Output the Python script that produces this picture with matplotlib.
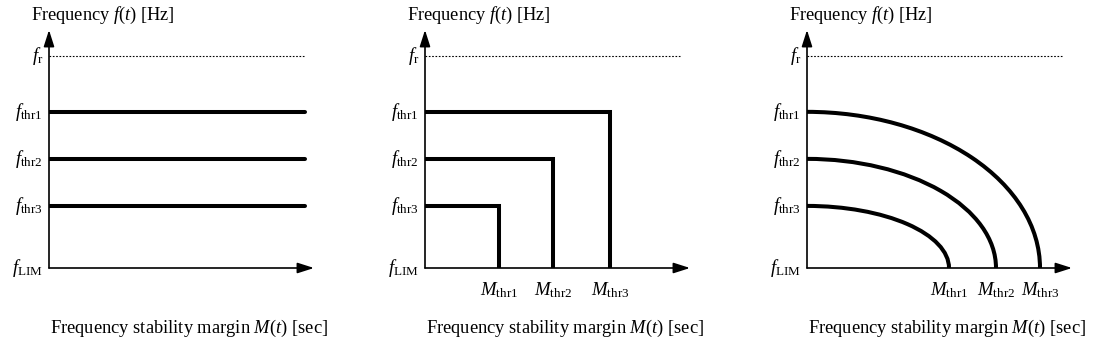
import matplotlib
matplotlib.use('Agg')
import matplotlib.pyplot as plt
from matplotlib.patches import Arc

plt.rcParams['font.family'] = 'Liberation Serif'
plt.rcParams['mathtext.fontset'] = 'custom'
plt.rcParams['mathtext.rm'] = 'Liberation Serif'
plt.rcParams['mathtext.it'] = 'Liberation Serif:italic'

# niveles de frecuencia (unidades arbitrarias, f_LIM = 0)
f_lim = 0.0
f_r = 4.51
f_thr = [3.32, 2.32, 1.32]          # thr1, thr2, thr3
f_names = ['thr1', 'thr2', 'thr3']

# margenes M donde cada nivel cae a f_LIM
m_const = 2.56                      # panel 1: lineas horizontales
m_step = [1.85, 1.28, 0.74]         # panel 2: escalones (thr1, thr2, thr3)
m_curve = [2.33, 1.89, 1.42]        # panel 3: curvas (thr1, thr2, thr3)
m_names = ['thr1', 'thr2', 'thr3']
m_dotted = 2.55

X_MAX = 2.65
Y_MAX = 5.06
W, H = 1098, 352
LW_THICK = 2.9
LW_AXIS = 1.2

panel_left_px = [49, 425, 807]

fig = plt.figure(figsize=(W / 100, H / 100), dpi=100)


def setup_panel(left_px):
    ax = fig.add_axes([left_px / W, (H - 268) / H, X_MAX * 100 / W, 238 / H])
    ax.set_xlim(0, X_MAX)
    ax.set_ylim(0, Y_MAX)
    ax.set_axis_off()

    arrow = dict(arrowstyle='-|>,head_length=1.0,head_width=0.32', lw=LW_AXIS,
                 color='black', shrinkA=0, shrinkB=0, mutation_scale=10)
    ax.annotate('', xy=(0, Y_MAX), xytext=(0, 0), arrowprops=arrow, annotation_clip=False)
    ax.annotate('', xy=(X_MAX, 0), xytext=(0, 0), arrowprops=arrow, annotation_clip=False)

    # linea de referencia f_r
    ax.plot([0, m_dotted], [f_r, f_r], color='black', lw=0.8, ls=(0, (1.5, 1.5)))

    # etiquetas del eje y
    labels = [(f_r, r'$f_{\mathrm{r}}$'), (f_lim, r'$f_{\mathrm{LIM}}$')]
    labels += [(f, r'$f_{\mathrm{%s}}$' % n) for f, n in zip(f_thr, f_names)]
    for y, txt in labels:
        ax.annotate(txt, xy=(0, y), xytext=(-6, 0), textcoords='offset pixels',
                    ha='right', va='center', fontsize=13.5, annotation_clip=False)

    ax.annotate(r'Frequency $f$($t$) [Hz]', xy=(0, Y_MAX), xytext=(-18, 10),
                textcoords='offset pixels', ha='left', va='baseline', fontsize=13.2,
                annotation_clip=False)
    ax.annotate(r'Frequency stability margin $M$($t$) [sec]', xy=(0, 0), xytext=(1, -60),
                textcoords='offset pixels', ha='left', va='center', fontsize=13.3,
                annotation_clip=False)
    return ax


def m_ticks(ax, values):
    for m, n in zip(values, m_names):
        ax.annotate(r'$M_{\mathrm{%s}}$' % n, xy=(m, 0), xytext=(0, -22),
                    textcoords='offset pixels', ha='center', va='center', fontsize=13.5,
                    annotation_clip=False)


# panel 1
ax1 = setup_panel(panel_left_px[0])
for f in f_thr:
    ax1.plot([0, m_const], [f, f], color='black', lw=LW_THICK, solid_capstyle='round')

# panel 2
ax2 = setup_panel(panel_left_px[1])
for f, m in zip(f_thr, m_step):
    ax2.plot([0, m, m], [f, f, 0], color='black', lw=LW_THICK,
             solid_joinstyle='miter', solid_capstyle='butt')
m_ticks(ax2, sorted(m_step))

# panel 3
ax3 = setup_panel(panel_left_px[2])
for f, m in zip(f_thr, m_curve):
    ax3.add_patch(Arc((0, 0), 2 * m, 2 * f, theta1=0, theta2=90,
                      color='black', lw=LW_THICK))
m_ticks(ax3, sorted(m_curve))

fig.savefig('out.png', dpi=100)
